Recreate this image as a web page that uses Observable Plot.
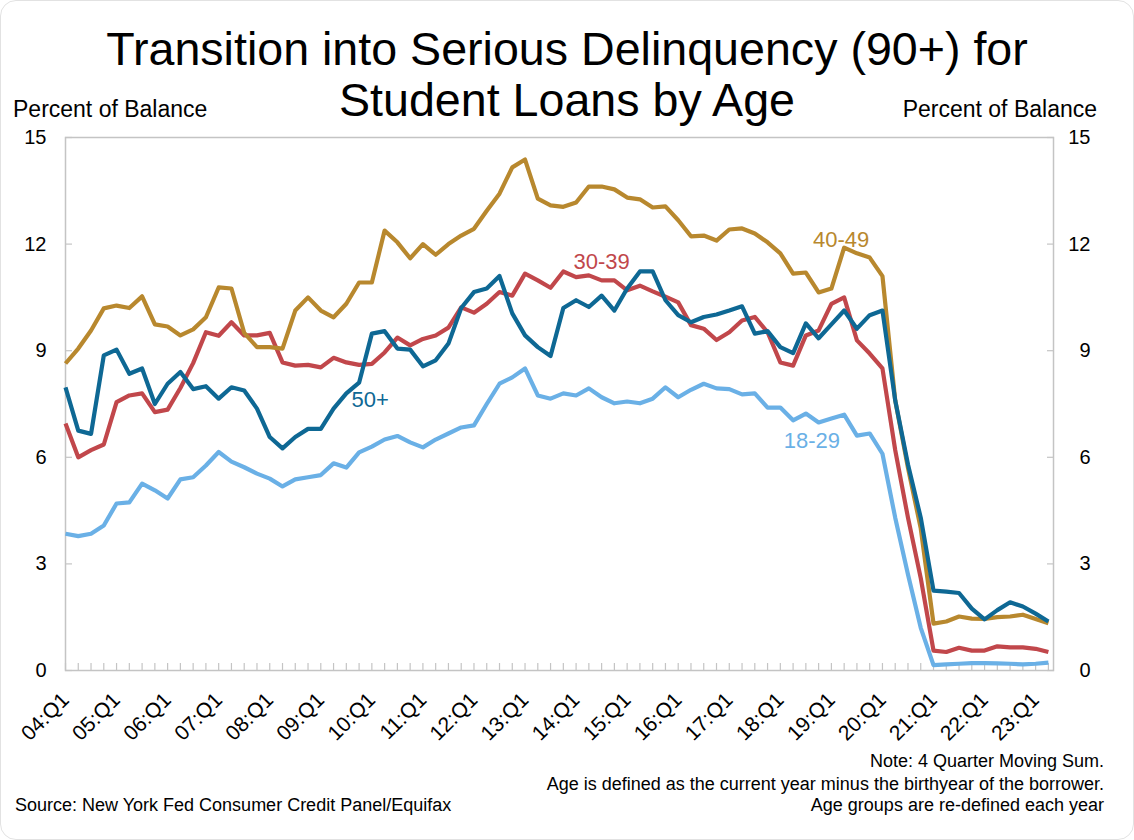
<!DOCTYPE html>
<html>
<head>
<meta charset="utf-8">
<script src="https://cdn.jsdelivr.net/npm/d3@7"></script>
<script src="https://cdn.jsdelivr.net/npm/@observablehq/plot@0.6"></script>
<style>
  html, body { margin: 0; padding: 0; background: #fff; }
  #page { position: relative; width: 1134px; height: 840px; overflow: hidden; background: #fff;
          font-family: "Liberation Sans", Arial, sans-serif; color: #000; }
  #frame { position: absolute; left: 0; top: 0; width: 1132px; height: 838px; border: 1px solid #e2e2e2; border-radius: 16px; }
  .title { position: absolute; left: 0; width: 1134px; top: 24px; text-align: center; font-size: 46.6px; line-height: 51px; }
  .ylab { position: absolute; top: 98px; font-size: 23px; line-height: 23px; white-space: nowrap; }
  .note { position: absolute; font-size: 18px; line-height: 18px; white-space: nowrap; }
  #chart { position: absolute; left: 0; top: 125px; }
</style>
</head>
<body>
<div id="page">
  <div id="frame"></div>
  <div class="title">Transition into Serious Delinquency (90+) for<br>Student Loans by Age</div>
  <div class="ylab" style="left:13px">Percent of Balance</div>
  <div class="ylab" style="right:37px">Percent of Balance</div>
  <div id="chart"></div>
  <div class="note" style="right:30px; top:752px">Note: 4 Quarter Moving Sum.</div>
  <div class="note" style="right:30px; top:775px">Age is defined as the current year minus the birthyear of the borrower.</div>
  <div class="note" style="right:30px; top:796px">Age groups are re-defined each year</div>
  <div class="note" style="left:15px; top:796px">Source: New York Fed Consumer Credit Panel/Equifax</div>
</div>
<script>
// ---- Data (percent of balance, 4-quarter moving sum), quarterly 04:Q1 .. 23:Q2 ----
const years = ["04","05","06","07","08","09","10","11","12","13","14","15","16","17","18","19","20","21","22","23"];
const quarterLabels = years.flatMap(y => ["Q1","Q2","Q3","Q4"].map(q => `${y}:${q}`)).slice(0, 78);
const yearTickLabels = ["04:Q1","05:Q1","06:Q1","07:Q1","08:Q1","09:Q1","10:Q1","11:Q1","12:Q1","13:Q1",
                        "14:Q1","15:Q1","16:Q1","17:Q1","18:Q1","19:Q1","20:Q1","21:Q1","22:Q1","23:Q1"];
const yTicks = [0, 3, 6, 9, 12, 15];

const age18_29 = [3.85,3.78,3.85,4.08,4.70,4.73,5.26,5.07,4.84,5.38,5.44,5.77,6.15,5.88,5.72,5.54,5.40,5.18,5.38,5.44,
  5.50,5.83,5.71,6.14,6.30,6.50,6.60,6.42,6.28,6.50,6.67,6.84,6.90,7.50,8.07,8.25,8.50,7.74,7.65,7.80,
  7.74,7.94,7.69,7.52,7.57,7.52,7.65,7.97,7.69,7.90,8.07,7.94,7.92,7.77,7.80,7.40,7.40,7.04,7.23,6.98,
  7.09,7.20,6.61,6.67,6.10,4.30,2.70,1.20,0.15,0.17,0.19,0.21,0.21,0.20,0.19,0.17,0.19,0.22];
const age30_39 = [6.95,6.00,6.20,6.36,7.55,7.74,7.80,7.27,7.34,7.95,8.65,9.52,9.42,9.80,9.43,9.43,9.50,8.67,8.58,8.60,
  8.53,8.80,8.67,8.60,8.63,8.95,9.37,9.15,9.33,9.43,9.65,10.22,10.07,10.32,10.65,10.55,11.17,10.98,10.77,11.23,
  11.07,11.12,10.98,10.98,10.70,10.83,10.67,10.52,10.36,9.72,9.62,9.30,9.52,9.85,9.95,9.52,8.67,8.58,9.43,9.57,
  10.32,10.50,9.29,8.92,8.50,6.20,4.30,2.60,0.56,0.52,0.64,0.56,0.56,0.68,0.65,0.65,0.61,0.52];
const age40_49 = [8.64,9.06,9.57,10.19,10.27,10.20,10.53,9.74,9.68,9.43,9.60,9.94,10.78,10.75,9.50,9.10,9.10,9.06,10.13,10.50,
  10.13,9.94,10.32,10.92,10.92,12.38,12.05,11.60,12.00,11.70,12.00,12.24,12.43,12.94,13.42,14.16,14.38,13.28,13.09,13.05,
  13.17,13.62,13.62,13.54,13.31,13.26,13.03,13.06,12.67,12.22,12.24,12.10,12.41,12.44,12.30,12.05,11.74,11.17,11.20,10.64,
  10.75,11.90,11.74,11.62,11.10,7.60,5.70,4.00,1.32,1.38,1.52,1.46,1.45,1.50,1.52,1.57,1.45,1.33];
const age50plus = [7.97,6.75,6.66,8.87,9.03,8.35,8.50,7.50,8.07,8.40,7.92,8.00,7.65,7.97,7.88,7.37,6.57,6.25,6.57,6.80,
  6.80,7.37,7.80,8.10,9.48,9.55,9.06,9.03,8.56,8.73,9.20,10.20,10.65,10.75,11.10,10.05,9.43,9.10,8.85,10.20,
  10.42,10.23,10.55,10.13,10.75,11.23,11.23,10.42,10.00,9.80,9.95,10.02,10.13,10.25,9.48,9.55,9.10,8.93,9.77,9.35,
  9.74,10.13,9.62,10.00,10.13,7.60,5.80,4.30,2.25,2.22,2.18,1.74,1.44,1.70,1.92,1.80,1.60,1.38];

const seriesNames = ["18-29", "30-39", "40-49", "50+"];
const seriesColors = ["#6AB0E6", "#C1474B", "#B8882E", "#0E6894"];
const seriesValues = [age18_29, age30_39, age40_49, age50plus];

// in-chart series labels: anchored to a data point of their own series (pixel offsets)
const labelAnchors = [
  {name: "18-29", at: 58, dx: 6,  dy: 27},
  {name: "30-39", at: 42, dx: 0,  dy: -18},
  {name: "40-49", at: 61, dx: -3, dy: -8},
  {name: "50+",   at: 23, dx: 11, dy: 17}
];

// ---- Build tables ----
const rows = seriesNames.flatMap((name, s) =>
  seriesValues[s].map((v, i) => ({i, quarter: quarterLabels[i], value: v, name})));
const labelRows = labelAnchors.map(d => {
  const s = seriesNames.indexOf(d.name);
  return {...d, value: seriesValues[s][d.at], color: seriesColors[s]};
});
const yearTickIdx = yearTickLabels.map(l => quarterLabels.indexOf(l));
const allQuarterIdx = quarterLabels.map((_, i) => i);

const axisGrey = "#c4c4c4";
const chart = Plot.plot({
  width: 1134,
  height: 620,
  marginTop: 12,
  marginLeft: 65,
  marginRight: 81,
  marginBottom: 75,
  style: {fontFamily: "'Liberation Sans', Arial, sans-serif", fontSize: "20px", color: "#000", background: "transparent", overflow: "visible"},
  x: {domain: [0, quarterLabels.length - 0.6]},
  y: {domain: [0, 15]},
  color: {domain: seriesNames, range: seriesColors},
  marks: [
    Plot.frame({stroke: axisGrey, strokeWidth: 1.5}),
    Plot.axisY({anchor: "left", ticks: yTicks, tickSize: 0, tickPadding: 19, label: null, fontSize: 20}),
    Plot.axisY({anchor: "left", ticks: yTicks, tickSize: -7, fill: "none", stroke: axisGrey, strokeWidth: 1.2, label: null}),
    Plot.axisY({anchor: "right", ticks: yTicks, tickSize: 0, tickPadding: 37, textAnchor: "end", label: null, fontSize: 20}),
    Plot.axisY({anchor: "right", ticks: yTicks, tickSize: -7, fill: "none", stroke: axisGrey, strokeWidth: 1.2, label: null}),
    Plot.axisX({ticks: yearTickIdx, tickFormat: i => quarterLabels[i], tickRotate: -45, tickSize: 0, tickPadding: 26, label: null, fontSize: 21}),
    Plot.axisX({ticks: allQuarterIdx, tickSize: -7, fill: "none", stroke: axisGrey, strokeWidth: 1.2, label: null}),
    Plot.line(rows, {x: "i", y: "value", z: "name", stroke: "name", strokeWidth: 4.2, strokeLinejoin: "round", strokeLinecap: "butt"}),
    ...labelRows.map(d => Plot.text([d], {x: "at", y: "value", text: "name", fill: "color", dx: d.dx, dy: d.dy, fontSize: 22}))
  ]
});
document.getElementById("chart").appendChild(chart);
</script>
</body>
</html>
